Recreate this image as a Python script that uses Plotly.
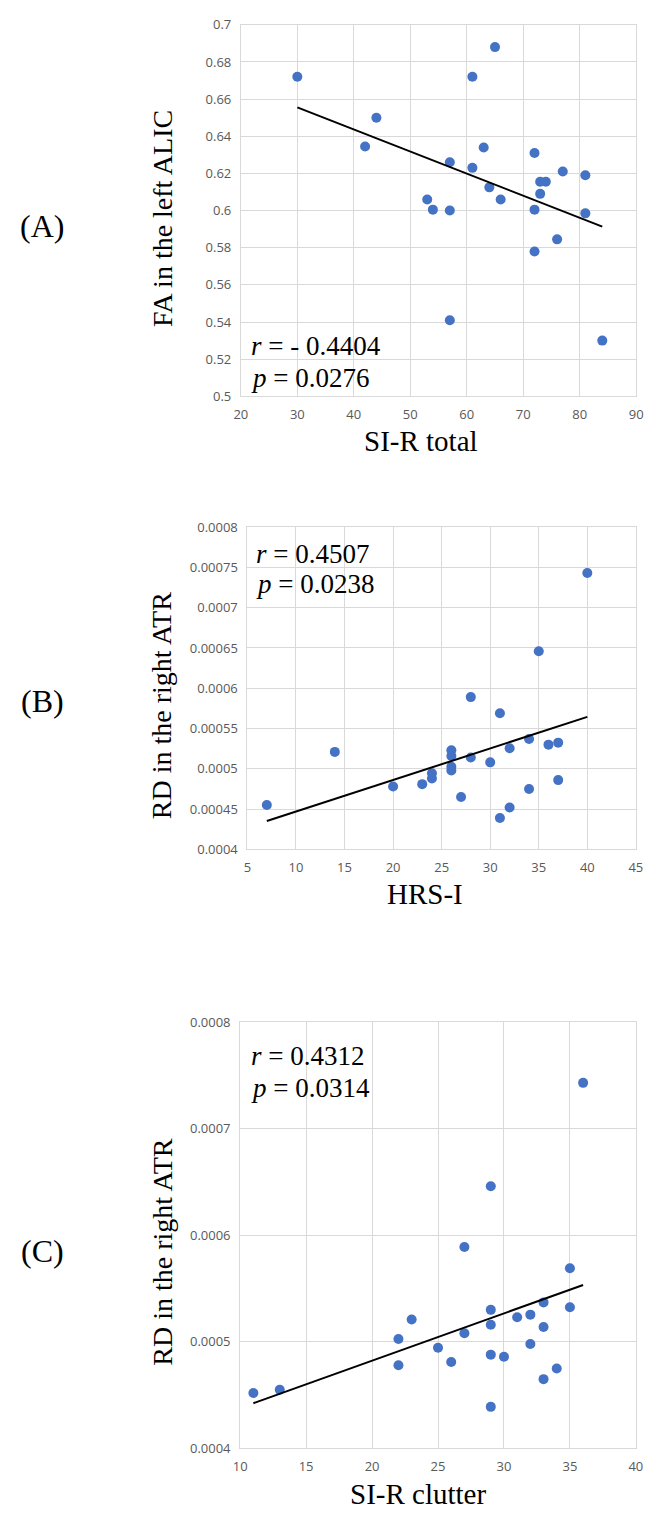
import numpy as np
import plotly.graph_objects as go

# ---------------- data ----------------
# Panel A: SI-R total vs FA in the left ALIC
sir_total = [30, 65, 61, 44, 42, 63, 72, 57, 61, 77, 81, 73, 74, 64, 73, 53, 66, 54, 57, 72, 81, 76, 72, 57, 84]
fa_left_alic = [0.672, 0.688, 0.672, 0.650, 0.6345, 0.634, 0.631, 0.626, 0.623, 0.621, 0.619, 0.6155, 0.6155,
                0.6125, 0.609, 0.606, 0.606, 0.6005, 0.600, 0.6005, 0.5985, 0.5845, 0.578, 0.541, 0.530]

# Panels B & C: RD in the right ATR vs HRS-I and SI-R clutter
rd_right_atr = [0.000743, 0.000646, 0.000589, 0.000569, 0.000537, 0.0005325, 0.000530, 0.0005255, 0.000523,
                0.000521, 0.000516, 0.000514, 0.000508, 0.0005026, 0.0004945, 0.000498, 0.000488, 0.000486,
                0.000481, 0.000478, 0.000475, 0.000465, 0.000455, 0.000452, 0.000439]
hrs_i = [40, 35, 28, 31, 34, 37, 36, 32, 26, 14, 26, 28, 30, 26, 24, 26, 24, 37, 23, 20, 34, 27, 7, 32, 31]
sir_clutter = [36, 29, 27, 35, 33, 35, 29, 32, 31, 23, 29, 33, 27, 22, 25, 32, 29, 30, 26, 22, 34, 33, 13, 11, 29]

# Tick labels
a_xticks = [20, 30, 40, 50, 60, 70, 80, 90]
a_yticks = [0.5, 0.52, 0.54, 0.56, 0.58, 0.6, 0.62, 0.64, 0.66, 0.68, 0.7]
a_ylabels = ["0.5", "0.52", "0.54", "0.56", "0.58", "0.6", "0.62", "0.64", "0.66", "0.68", "0.7"]
b_xticks = [5, 10, 15, 20, 25, 30, 35, 40, 45]
b_yticks = [0.0004, 0.00045, 0.0005, 0.00055, 0.0006, 0.00065, 0.0007, 0.00075, 0.0008]
b_ylabels = ["0.0004", "0.00045", "0.0005", "0.00055", "0.0006", "0.00065", "0.0007", "0.00075", "0.0008"]
c_xticks = [10, 15, 20, 25, 30, 35, 40]
c_yticks = [0.0004, 0.0005, 0.0006, 0.0007, 0.0008]
c_ylabels = ["0.0004", "0.0005", "0.0006", "0.0007", "0.0008"]

stats_a = ("<i>r</i> = - 0.4404", "<i>p</i> = 0.0276")
stats_b = ("<i>r</i> = 0.4507", "<i>p</i> = 0.0238")
stats_c = ("<i>r</i> = 0.4312", "<i>p</i> = 0.0314")

# ---------------- figure ----------------
W, H = 651, 1516
BLUE = "#4472C4"
GRID = "#D9D9D9"
TICKC = "#595959"
SERIF = "Liberation Serif, Times New Roman, serif"
SANS = "Open Sans, Segoe UI, sans-serif"

fig = go.Figure()


def add_panel(i, xs, ys):
    sx = "x" if i == 1 else f"x{i}"
    sy = "y" if i == 1 else f"y{i}"
    fig.add_trace(go.Scatter(x=xs, y=ys, mode="markers", xaxis=sx, yaxis=sy,
                             marker=dict(color=BLUE, size=10, line=dict(width=0)),
                             showlegend=False))
    m, b = np.polyfit(np.array(xs, float), np.array(ys, float), 1)
    tx = [min(xs), max(xs)]
    fig.add_trace(go.Scatter(x=tx, y=[m * t + b for t in tx], mode="lines", xaxis=sx, yaxis=sy,
                             line=dict(color="black", width=2), showlegend=False))


add_panel(1, sir_total, fa_left_alic)
add_panel(2, hrs_i, rd_right_atr)
add_panel(3, sir_clutter, rd_right_atr)


def px_x(p):
    return p / W


def px_y(p):
    return 1 - p / H


axis_common = dict(showgrid=True, gridcolor=GRID, gridwidth=1, zeroline=False,
                   showline=True, mirror=True, linecolor=GRID, linewidth=1,
                   ticks="", tickfont=dict(family=SANS, size=13, color=TICKC))

panels = [
    # (x0, x1, ytop, ybottom) in pixels
    (239, 643, 16, 392, [20, 90], a_xticks, [0.5, 0.7], a_yticks, a_ylabels),
    (245.7, 642.7, 524.3, 850.5, [5, 45], b_xticks, [0.0004, 0.0008], b_yticks, b_ylabels),
    (238.3, 642.7, 1025.3, 1456.7, [10, 40], c_xticks, [0.0004, 0.0008], c_yticks, c_ylabels),
]

layout = dict(width=W, height=H, margin=dict(l=0, r=0, t=0, b=0),
              paper_bgcolor="white", plot_bgcolor="white", showlegend=False)
for i, (x0, x1, yt, yb, xr, xt, yr, yt_vals, yt_text) in enumerate(panels, start=1):
    xk = "xaxis" if i == 1 else f"xaxis{i}"
    yk = "yaxis" if i == 1 else f"yaxis{i}"
    ya = "y" if i == 1 else f"y{i}"
    xa = "x" if i == 1 else f"x{i}"
    layout[xk] = dict(axis_common, domain=[px_x(x0), px_x(x1)], range=xr,
                      tickvals=xt, ticktext=[str(v) for v in xt], anchor=ya,
                      ticklabelstandoff=6)
    layout[yk] = dict(axis_common, domain=[px_y(yb), px_y(yt)], range=yr,
                      tickvals=yt_vals, ticktext=yt_text, anchor=xa,
                      ticklabelstandoff=6)
fig.update_layout(**layout)

annotations = []


def ann(text, x, y, size, xanchor="center", textangle=0, yanchor="middle"):
    annotations.append(dict(text=text, x=px_x(x), y=px_y(y), xref="paper", yref="paper",
                            xanchor=xanchor, yanchor=yanchor, showarrow=False, textangle=textangle,
                            font=dict(family=SERIF, size=size, color="black")))


# panel labels
ann("(A)", 36, 220, 32)
ann("(B)", 36, 700, 32)
ann("(C)", 36, 1257, 32)
# y titles
ann("FA in the left ALIC", 159, 212, 28, textangle=-90)
ann("RD in the right ATR", 158, 705, 28, textangle=-90)
ann("RD in the right ATR", 158, 1258, 28, textangle=-90)
# x titles
ann("SI-R total", 423, 437, 29)
ann("HRS-I", 427, 896, 29)
ann("SI-R clutter", 420, 1503, 29)
# stats
ann(stats_a[0], 247, 341, 27, xanchor="left")
ann(stats_a[1], 247, 373, 27, xanchor="left")
ann(stats_b[0], 252, 552, 27, xanchor="left")
ann(stats_b[1], 252, 582, 27, xanchor="left")
ann(stats_c[0], 247, 1060, 27, xanchor="left")
ann(stats_c[1], 247, 1092, 27, xanchor="left")

fig.update_layout(annotations=annotations)
fig.write_html("out.html")
